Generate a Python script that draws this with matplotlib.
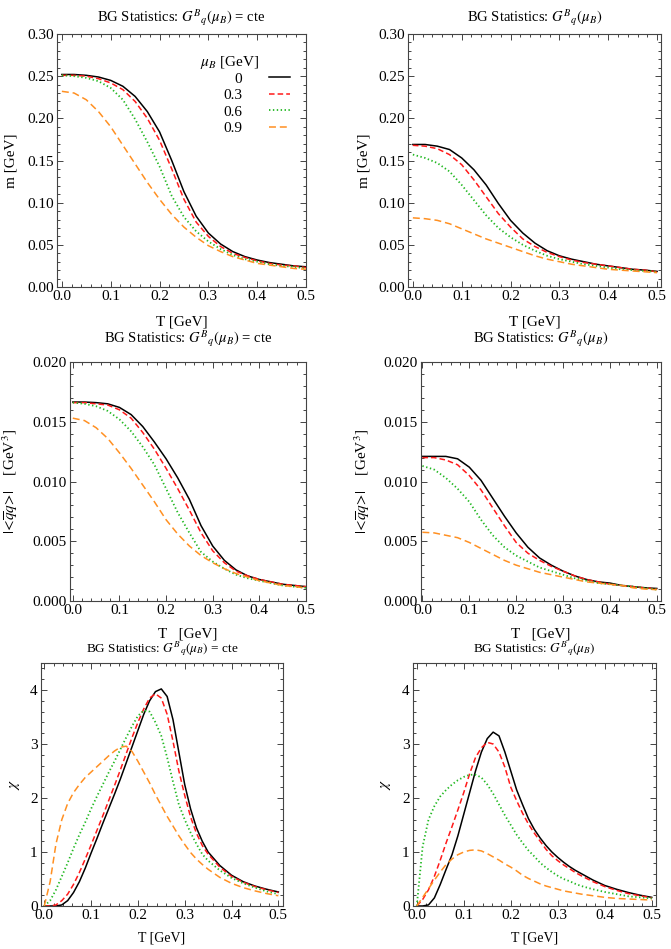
import matplotlib
matplotlib.use('Agg')
import matplotlib.pyplot as plt
from matplotlib.ticker import MultipleLocator, FormatStrFormatter

plt.rcParams['font.family'] = ['Liberation Serif', 'DejaVu Serif']
plt.rcParams['mathtext.fontset'] = 'stix'
plt.rcParams['lines.scale_dashes'] = False

# ---------------- data ----------------
T = [0.0, 0.025, 0.05, 0.075, 0.1, 0.125, 0.15, 0.175, 0.2, 0.225, 0.25,
     0.275, 0.3, 0.325, 0.35, 0.375, 0.4, 0.425, 0.45, 0.475, 0.5]
T_chi = [0.0, 0.0125, 0.025, 0.0375, 0.05, 0.0625, 0.075, 0.0875, 0.1, 0.1125,
         0.125, 0.1375, 0.15, 0.1625, 0.175, 0.1875, 0.2, 0.2125, 0.225, 0.2375,
         0.25, 0.2625, 0.275, 0.2875, 0.3, 0.3125, 0.325, 0.3375, 0.35,
         0.375, 0.4, 0.425, 0.45, 0.475, 0.5]
mu_labels = ['0', '0.3', '0.6', '0.9']

# mass, G constant
m_cte_0 = [0.252, 0.252, 0.251, 0.249, 0.245, 0.238, 0.226, 0.208, 0.184, 0.150, 0.113,
           0.084, 0.064, 0.051, 0.042, 0.036, 0.032, 0.029, 0.027, 0.025, 0.024]
m_cte_03 = [0.251, 0.251, 0.250, 0.247, 0.242, 0.234, 0.220, 0.200, 0.174, 0.140, 0.104,
            0.077, 0.060, 0.048, 0.040, 0.035, 0.031, 0.028, 0.026, 0.025, 0.023]
m_cte_06 = [0.251, 0.250, 0.248, 0.244, 0.236, 0.222, 0.199, 0.172, 0.143, 0.108, 0.083,
            0.066, 0.054, 0.045, 0.038, 0.033, 0.030, 0.027, 0.025, 0.024, 0.022]
m_cte_09 = [0.232, 0.230, 0.222, 0.208, 0.190, 0.168, 0.146, 0.124, 0.104, 0.086, 0.071,
            0.059, 0.049, 0.042, 0.036, 0.032, 0.028, 0.026, 0.024, 0.022, 0.021]
# mass, G(mu_B)
m_mu_0 = [0.169, 0.169, 0.167, 0.163, 0.153, 0.139, 0.121, 0.099, 0.079, 0.064, 0.052,
          0.043, 0.037, 0.033, 0.030, 0.027, 0.025, 0.023, 0.021, 0.020, 0.0185]
m_mu_03 = [0.168, 0.167, 0.164, 0.157, 0.145, 0.127, 0.107, 0.087, 0.071, 0.057, 0.048,
           0.041, 0.036, 0.032, 0.029, 0.027, 0.025, 0.023, 0.021, 0.020, 0.018]
m_mu_06 = [0.157, 0.153, 0.147, 0.137, 0.121, 0.103, 0.085, 0.070, 0.059, 0.050, 0.043,
           0.037, 0.033, 0.030, 0.027, 0.025, 0.023, 0.021, 0.020, 0.019, 0.018]
m_mu_09 = [0.082, 0.081, 0.079, 0.075, 0.069, 0.063, 0.057, 0.052, 0.047, 0.042, 0.037,
           0.033, 0.030, 0.027, 0.025, 0.023, 0.021, 0.020, 0.019, 0.018, 0.017]
# condensate, G constant
qq_cte_0 = [0.01665, 0.01665, 0.0166, 0.0165, 0.0162, 0.0156, 0.0146, 0.0133, 0.0119, 0.0103, 0.0085,
            0.0063, 0.0046, 0.0034, 0.0026, 0.0021, 0.0018, 0.0016, 0.0014, 0.0013, 0.0012]
qq_cte_03 = [0.0166, 0.0166, 0.0165, 0.0164, 0.0160, 0.0153, 0.0141, 0.0127, 0.0111, 0.0094, 0.0076,
             0.0057, 0.0042, 0.0032, 0.0025, 0.0021, 0.0018, 0.0016, 0.0014, 0.0013, 0.0012]
qq_cte_06 = [0.0166, 0.0165, 0.0163, 0.0159, 0.0152, 0.0142, 0.0129, 0.0114, 0.0094, 0.0074, 0.0057,
             0.0041, 0.0033, 0.0027, 0.0022, 0.0019, 0.0017, 0.0015, 0.0013, 0.0012, 0.0011]
qq_cte_09 = [0.0153, 0.0151, 0.0145, 0.0136, 0.0124, 0.0111, 0.0097, 0.0083, 0.0068, 0.0056, 0.0046,
             0.0038, 0.0032, 0.0027, 0.0023, 0.0020, 0.0017, 0.0015, 0.0013, 0.0012, 0.0011]
# condensate, G(mu_B)
qq_mu_0 = [0.0121, 0.0121, 0.0121, 0.0119, 0.0112, 0.0101, 0.0086, 0.0071, 0.0057, 0.0045, 0.0036,
           0.0030, 0.0025, 0.0021, 0.0018, 0.0016, 0.0015, 0.0013, 0.0012, 0.0011, 0.00105]
qq_mu_03 = [0.0120, 0.0120, 0.0118, 0.0114, 0.0105, 0.0093, 0.0078, 0.0063, 0.0049, 0.0040, 0.0034,
            0.0029, 0.0025, 0.0021, 0.0018, 0.0016, 0.0014, 0.0013, 0.0012, 0.0011, 0.0010]
qq_mu_06 = [0.0113, 0.0110, 0.0103, 0.0094, 0.0083, 0.0068, 0.0055, 0.0045, 0.0038, 0.0033, 0.0028,
            0.0025, 0.0022, 0.0019, 0.0017, 0.0015, 0.0014, 0.0013, 0.0012, 0.0011, 0.00095]
qq_mu_09 = [0.00575, 0.0057, 0.0055, 0.0053, 0.0049, 0.0044, 0.0039, 0.0034, 0.0030, 0.0027, 0.0024,
            0.0022, 0.0020, 0.0018, 0.0016, 0.0015, 0.0014, 0.0013, 0.0011, 0.0010, 0.00095]
# susceptibility, G constant
chi_cte_0 = [0, 0, 0, 0.02, 0.1, 0.25, 0.45, 0.7, 0.98, 1.25, 1.53, 1.8, 2.07, 2.35, 2.65,
             2.95, 3.25, 3.55, 3.8, 3.97, 4.02, 3.88, 3.45, 2.85, 2.25, 1.8, 1.45, 1.2, 1.0,
             0.75, 0.57, 0.45, 0.37, 0.31, 0.26]
chi_cte_03 = [0, 0, 0.02, 0.1, 0.22, 0.4, 0.62, 0.87, 1.13, 1.4, 1.67, 1.95, 2.23, 2.52, 2.82,
              3.12, 3.4, 3.65, 3.85, 3.93, 3.85, 3.55, 3.05, 2.5, 2.05, 1.65, 1.35, 1.12, 0.96,
              0.72, 0.55, 0.44, 0.36, 0.3, 0.25]
chi_cte_06 = [0, 0.1, 0.3, 0.55, 0.8, 1.07, 1.32, 1.55, 1.8, 2.03, 2.25, 2.47, 2.68, 2.9, 3.12,
              3.33, 3.52, 3.62, 3.6, 3.4, 3.15, 2.75, 2.3, 1.88, 1.6, 1.36, 1.15, 0.96, 0.84,
              0.66, 0.52, 0.42, 0.34, 0.27, 0.22]
chi_cte_09 = [0, 0.45, 1.15, 1.6, 1.9, 2.1, 2.25, 2.38, 2.48, 2.58, 2.68, 2.78, 2.87, 2.94, 2.96,
              2.86, 2.68, 2.48, 2.28, 2.06, 1.86, 1.66, 1.48, 1.3, 1.14, 0.99, 0.87, 0.77, 0.68,
              0.53, 0.42, 0.34, 0.28, 0.23, 0.19]
# susceptibility, G(mu_B)
chi_mu_0 = [0, 0, 0.02, 0.15, 0.4, 0.68, 0.95, 1.3, 1.7, 2.1, 2.5, 2.85, 3.1, 3.22, 3.15,
            2.85, 2.5, 2.15, 1.88, 1.62, 1.42, 1.26, 1.12, 1.0, 0.9, 0.81, 0.73, 0.66, 0.6,
            0.48, 0.38, 0.31, 0.25, 0.2, 0.16]
chi_mu_03 = [0, 0.12, 0.3, 0.55, 0.85, 1.17, 1.47, 1.78, 2.1, 2.45, 2.75, 2.93, 3.03, 3.0, 2.85,
             2.57, 2.2, 1.95, 1.72, 1.52, 1.35, 1.2, 1.05, 0.93, 0.84, 0.76, 0.69, 0.62, 0.56,
             0.45, 0.36, 0.29, 0.23, 0.19, 0.15]
chi_mu_06 = [0, 1.1, 1.6, 1.85, 2.03, 2.15, 2.25, 2.33, 2.39, 2.43, 2.43, 2.38, 2.25, 2.08, 1.88,
             1.68, 1.5, 1.32, 1.17, 1.03, 0.92, 0.8, 0.71, 0.63, 0.56, 0.5, 0.46, 0.41, 0.37,
             0.31, 0.26, 0.22, 0.18, 0.16, 0.14]
chi_mu_09 = [0, 0.16, 0.32, 0.48, 0.63, 0.77, 0.87, 0.95, 1.0, 1.03, 1.04, 1.02, 0.97, 0.91, 0.85,
             0.78, 0.72, 0.65, 0.57, 0.51, 0.46, 0.41, 0.37, 0.34, 0.31, 0.28, 0.26, 0.24, 0.22,
             0.19, 0.16, 0.14, 0.13, 0.12, 0.11]

# ---------------- style ----------------
styles = [
    dict(color='black', lw=1.1, linestyle='-'),
    dict(color='#ff1a1a', lw=1.1, linestyle=(0, (4.0, 2.2))),
    dict(color='#22b822', lw=1.3, linestyle=(0, (1.0, 1.8))),
    dict(color='#ff9022', lw=1.1, linestyle=(0, (5.0, 2.8))),
]

W, H = 671, 949
fig = plt.figure(figsize=(W / 100, H / 100), dpi=100)


def rect(l, r, t, b):
    return [l / W, 1 - b / H, (r - l) / W, (b - t) / H]


title_cte = r'BG Statistics: $G^{B}{}_{q}(\mu_B)$ = cte'
title_mu = r'BG Statistics: $G^{B}{}_{q}(\mu_B)$'
qq_label = r'$|\!<\!\overline{q}q\!>\!|$    [GeV$^3$]'

panels = [
    # rect, x, ys, title, ylabel, xlabel, ylim, ymajor, yminor, yfmt, xlim, ylabx, tpad, tfs, xlfs, xlpad
    (rect(57, 306, 34, 287), T, [m_cte_0, m_cte_03, m_cte_06, m_cte_09], title_cte, 'm [GeV]', 'T [GeV]',
     (0, 0.30), 0.05, 0.01, '%.2f', (-0.01, 0.5), -0.157, 9, 10.5, 11, 8.8),
    (rect(408, 661, 34, 287), T, [m_mu_0, m_mu_03, m_mu_06, m_mu_09], title_mu, 'm [GeV]', 'T [GeV]',
     (0, 0.30), 0.05, 0.01, '%.2f', (-0.01, 0.508), -0.150, 9, 10.5, 11, 8.8),
    (rect(70, 306, 362, 601), T, [qq_cte_0, qq_cte_03, qq_cte_06, qq_cte_09], title_cte, qq_label, 'T   [GeV]',
     (0, 0.020), 0.005, 0.001, '%.3f', (-0.006, 0.5), -0.212, 14, 10.5, 11, 7.3),
    (rect(421, 661, 362, 601), T, [qq_mu_0, qq_mu_03, qq_mu_06, qq_mu_09], title_mu, qq_label, 'T   [GeV]',
     (0, 0.020), 0.005, 0.001, '%.3f', (-0.003, 0.509), -0.204, 14, 10.5, 11, 7.3),
    (rect(41, 283, 663, 906), T_chi, [chi_cte_0, chi_cte_03, chi_cte_06, chi_cte_09], title_cte, r'$\chi$', 'T [GeV]',
     (0, 4.5), 1, 0.2, '%d', (-0.007, 0.51), -0.079, 8, 9.5, 10, 6.6),
    (rect(413, 656, 663, 906), T_chi, [chi_mu_0, chi_mu_03, chi_mu_06, chi_mu_09], title_mu, r'$\chi$', 'T [GeV]',
     (0, 4.5), 1, 0.2, '%d', (-0.008, 0.509), -0.082, 8, 9.5, 10, 6.6),
]

axes = []
for (r, x, ys, title, ylab, xlab, ylim, ymaj, ymin, yfmt, xlim, ylabx, tpad, tfs, xlfs, xlpad) in panels:
    ax = fig.add_axes(r)
    lines = []
    for y, st, lab in zip(ys, styles, mu_labels):
        ln, = ax.plot(x, y, label=lab, **st)
        lines.append(ln)
    ax.set_xlim(*xlim)
    ax.set_ylim(*ylim)
    ax.xaxis.set_major_locator(MultipleLocator(0.1))
    ax.xaxis.set_minor_locator(MultipleLocator(0.02))
    ax.xaxis.set_major_formatter(FormatStrFormatter('%.1f'))
    ax.yaxis.set_major_locator(MultipleLocator(ymaj))
    ax.yaxis.set_minor_locator(MultipleLocator(ymin))
    ax.yaxis.set_major_formatter(FormatStrFormatter(yfmt))
    ax.tick_params(which='both', direction='in', top=True, right=True, labelsize=11,
                   color='#444444', width=0.7)
    ax.tick_params(which='major', length=4.0, pad=2.5)
    ax.tick_params(which='minor', length=2.2)
    for s in ax.spines.values():
        s.set_color('#444444')
        s.set_linewidth(0.8)
    ax.set_title(title, fontsize=tfs, pad=tpad)
    ax.set_xlabel(xlab, fontsize=xlfs, labelpad=xlpad)
    ax.set_ylabel(ylab, fontsize=11)
    ax.yaxis.set_label_coords(ylabx, 0.5)
    axes.append((ax, lines))

# legend in first panel
ax0, lines0 = axes[0]
ax0.legend(lines0, mu_labels, markerfirst=False, frameon=False, loc='upper right',
           bbox_to_anchor=(0.936, 0.850), fontsize=11, handlelength=1.35,
           handletextpad=1.8, labelspacing=0.19, borderpad=0, borderaxespad=0)
ax0.text(0.574, 0.889, r'$\mu_B$ [GeV]', transform=ax0.transAxes, ha='left', va='center', fontsize=11)

fig.savefig('out.png', dpi=100)
